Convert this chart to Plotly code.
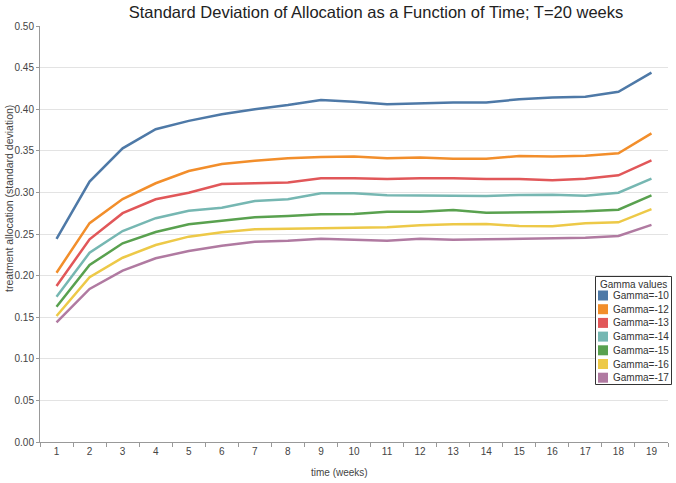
import plotly.graph_objects as go

weeks = [str(i) for i in range(1, 20)]
series_names = ["Gamma=-10", "Gamma=-12", "Gamma=-13", "Gamma=-14", "Gamma=-15", "Gamma=-16", "Gamma=-17"]

gamma_10 = [0.244, 0.313, 0.353, 0.376, 0.386, 0.394, 0.400, 0.405, 0.411, 0.409, 0.406, 0.407, 0.408, 0.408, 0.412, 0.414, 0.415, 0.421, 0.444]
gamma_12 = [0.2035, 0.263, 0.292, 0.311, 0.3257, 0.334, 0.338, 0.341, 0.3425, 0.343, 0.341, 0.342, 0.3405, 0.3405, 0.3438, 0.343, 0.344, 0.347, 0.371]
gamma_13 = [0.1875, 0.2436, 0.275, 0.2917, 0.2996, 0.310, 0.311, 0.312, 0.317, 0.317, 0.316, 0.317, 0.317, 0.316, 0.316, 0.3145, 0.3165, 0.3205, 0.3386]
gamma_14 = [0.1746, 0.2275, 0.2536, 0.269, 0.278, 0.2816, 0.2897, 0.2917, 0.299, 0.299, 0.2965, 0.296, 0.2957, 0.2957, 0.297, 0.2973, 0.296, 0.2997, 0.3165]
gamma_15 = [0.1626, 0.2127, 0.2388, 0.2524, 0.2617, 0.266, 0.270, 0.2716, 0.2737, 0.274, 0.2768, 0.2768, 0.2788, 0.2756, 0.2756, 0.2764, 0.2773, 0.2792, 0.2965]
gamma_16 = [0.1514, 0.198, 0.2215, 0.2368, 0.2468, 0.252, 0.2556, 0.2564, 0.2572, 0.258, 0.258, 0.2604, 0.2617, 0.262, 0.2596, 0.2593, 0.2629, 0.264, 0.280]
gamma_17 = [0.1439, 0.184, 0.206, 0.2208, 0.2296, 0.236, 0.2408, 0.242, 0.2444, 0.2428, 0.242, 0.2444, 0.2432, 0.2436, 0.2444, 0.2448, 0.2455, 0.2476, 0.261]

all_series = [gamma_10, gamma_12, gamma_13, gamma_14, gamma_15, gamma_16, gamma_17]
colors = ["#4E79A7", "#F28E2B", "#E15759", "#76B7B2", "#59A14F", "#EDC948", "#B07AA1"]

FONT = "Arial, Liberation Sans, sans-serif"
W, H = 676, 483
ML, MR, MT, MB = 40, 8, 26, 41
PW, PH = W - ML - MR, H - MT - MB


def px(X):
    return (X - ML) / PW


def py(Y):
    return (H - MB - Y) / PH


fig = go.Figure()
for name, vals, col in zip(series_names, all_series, colors):
    fig.add_trace(go.Scatter(x=weeks, y=vals, mode="lines", name=name,
                             line=dict(color=col, width=2.5), showlegend=False))

shapes = []
annotations = []

# legend box (compact, like the reference)
LX0, LX1, LY0, LY1 = 595.5, 671.5, 276.5, 384.5
shapes.append(dict(type="rect", xref="paper", yref="paper",
                   x0=px(LX0), x1=px(LX1), y0=py(LY1), y1=py(LY0),
                   line=dict(color="#333", width=1), fillcolor="white", layer="above"))
annotations.append(dict(text="Gamma values", xref="paper", yref="paper",
                        x=px(633.5), y=py(284.5), xanchor="center", yanchor="middle",
                        showarrow=False, font=dict(family=FONT, size=10, color="#333")))
item_y0, item_step = 295.5, 13.7
for i, (name, col) in enumerate(zip(series_names, colors)):
    yc = item_y0 + i * item_step
    shapes.append(dict(type="rect", xref="paper", yref="paper",
                       x0=px(598), x1=px(608), y0=py(yc + 5), y1=py(yc - 5),
                       line=dict(width=0), fillcolor=col, layer="above"))
    annotations.append(dict(text=name, xref="paper", yref="paper",
                            x=px(610.5), y=py(yc), xanchor="left", yanchor="middle",
                            showarrow=False, font=dict(family=FONT, size=10, color="#333")))

# axis titles
annotations.append(dict(text="time (weeks)", xref="paper", yref="paper",
                        x=px(339), y=py(472), xanchor="center", yanchor="middle",
                        showarrow=False, font=dict(family=FONT, size=10, color="#444")))
annotations.append(dict(text="treatment allocation (standard deviation)", xref="paper", yref="paper",
                        x=px(9), y=py(199), xanchor="center", yanchor="middle", textangle=-90,
                        showarrow=False, font=dict(family=FONT, size=10.5, color="#444")))

fig.update_layout(
    width=W, height=H,
    margin=dict(l=ML, r=MR, t=MT, b=MB, autoexpand=False),
    plot_bgcolor="white", paper_bgcolor="white",
    font=dict(family=FONT, size=10, color="#444"),
    showlegend=False,
    title=dict(text="Standard Deviation of Allocation as a Function of Time; T=20 weeks",
               x=376/W, xanchor="center", xref="container",
               y=1-12/H, yanchor="middle",
               font=dict(family=FONT, size=16.5, color="#222")),
    shapes=shapes,
    annotations=annotations,
)
fig.update_xaxes(
    type="category", range=[-0.5, 18.5], tickson="boundaries", ticks="outside", ticklen=4, tickcolor="#999",
    showline=True, linecolor="#999", linewidth=1, showgrid=False, automargin=False,
    tickfont=dict(size=10, color="#444"),
)
fig.update_yaxes(
    range=[0, 0.5], dtick=0.05, tickformat=".2f",
    showline=True, linecolor="#999", linewidth=1,
    showgrid=True, gridcolor="#e3e3e3", gridwidth=1, zeroline=False,
    ticks="outside", ticklen=3, tickcolor="#999", automargin=False,
    tickfont=dict(size=10, color="#444"),
)

fig.write_html("out.html", config={"displayModeBar": False},
               post_script="document.body.style.margin='0';document.body.style.overflow='hidden';")
